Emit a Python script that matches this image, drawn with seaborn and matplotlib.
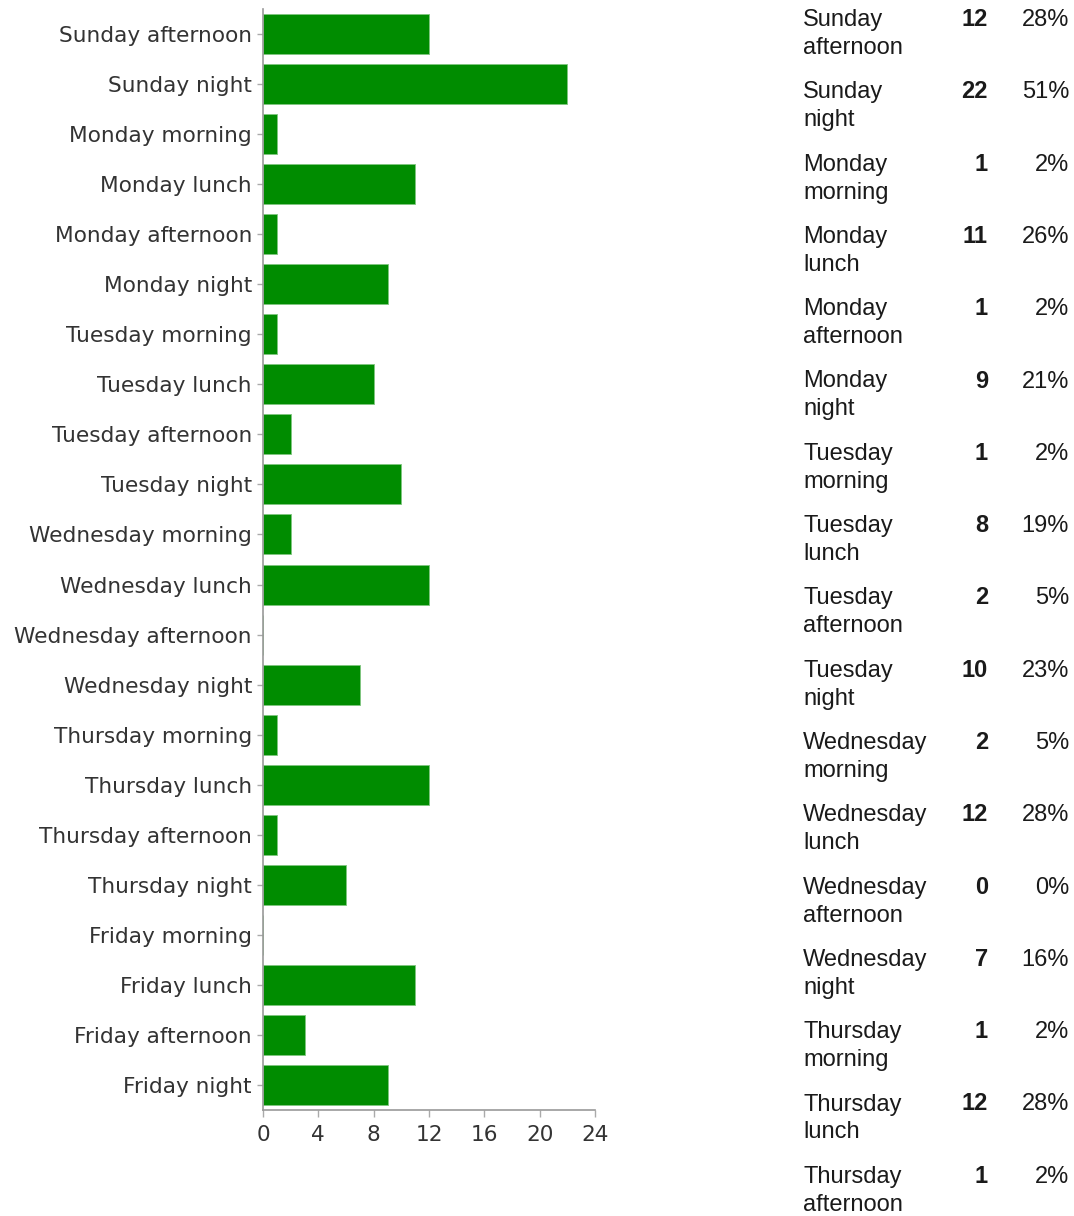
import matplotlib
matplotlib.use("Agg")
import matplotlib.pyplot as plt
import seaborn as sns
import pandas as pd

# answers (one row per time slot)
slots = [
    "Sunday afternoon", "Sunday night", "Monday morning", "Monday lunch",
    "Monday afternoon", "Monday night", "Tuesday morning", "Tuesday lunch",
    "Tuesday afternoon", "Tuesday night", "Wednesday morning", "Wednesday lunch",
    "Wednesday afternoon", "Wednesday night", "Thursday morning", "Thursday lunch",
    "Thursday afternoon", "Thursday night", "Friday morning", "Friday lunch",
    "Friday afternoon", "Friday night",
]
counts = [12, 22, 1, 11, 1, 9, 1, 8, 2, 10, 2, 12, 0, 7, 1, 12, 1, 6, 0, 11, 3, 9]
percents = ["28%", "51%", "2%", "26%", "2%", "21%", "2%", "19%", "5%", "23%", "5%",
            "28%", "0%", "16%", "2%", "28%", "2%", "14%", "0%", "26%", "7%", "21%"]
x_ticks = [0, 4, 8, 12, 16, 20, 24]

df = pd.DataFrame({"slot": slots, "count": counts})

sns.set_theme(style="white")
plt.rcParams["font.family"] = ["Liberation Sans", "DejaVu Sans"]

W, H = 1074, 1216
fig = plt.figure(figsize=(W / 100, H / 100), dpi=100)
ax = fig.add_axes([263 / W, 1 - 1110 / H, (595 - 263) / W, (1110 - 9) / H])

sns.barplot(data=df, x="count", y="slot", color="#008c00", saturation=1,
            width=0.8, edgecolor="#7fc67f", linewidth=0.6, ax=ax)

ax.set_xlim(0, 24)
ax.set_ylim(len(slots) - 0.5, -0.5)
ax.set_xticks(x_ticks)
ax.set_xlabel("")
ax.set_ylabel("")
for side in ["top", "right"]:
    ax.spines[side].set_visible(False)
for side in ["left", "bottom"]:
    ax.spines[side].set_color("#999999")
    ax.spines[side].set_linewidth(1.2)
ax.tick_params(axis="y", left=True, length=4, width=1, color="#aaaaaa",
               labelsize=15.6, labelcolor="#333333", pad=4)
ax.tick_params(axis="x", bottom=True, length=5, width=1, color="#aaaaaa",
               labelsize=15.6, labelcolor="#333333", pad=6)
for lab in ax.get_yticklabels() + ax.get_xticklabels():
    lab.set_fontfamily("DejaVu Sans")

# summary table on the right, only the rows that fit on the page
row_h = 72.3
visible = 17
for i, (name, c, p) in enumerate(zip(slots[:visible], counts, percents)):
    first, second = name.split(" ", 1)
    y1 = 1 - (26 + row_h * i) / H
    y2 = 1 - (54 + row_h * i) / H
    kw = dict(fontsize=17, color="#1a1a1a", va="baseline")
    fig.text(803 / W, y1, first, ha="left", **kw)
    fig.text(803 / W, y2, second, ha="left", **kw)
    fig.text(988 / W, y1, str(c), ha="right", fontweight="bold", **kw)
    fig.text(1069 / W, y1, p, ha="right", **kw)

fig.savefig("out.png", dpi=100)
